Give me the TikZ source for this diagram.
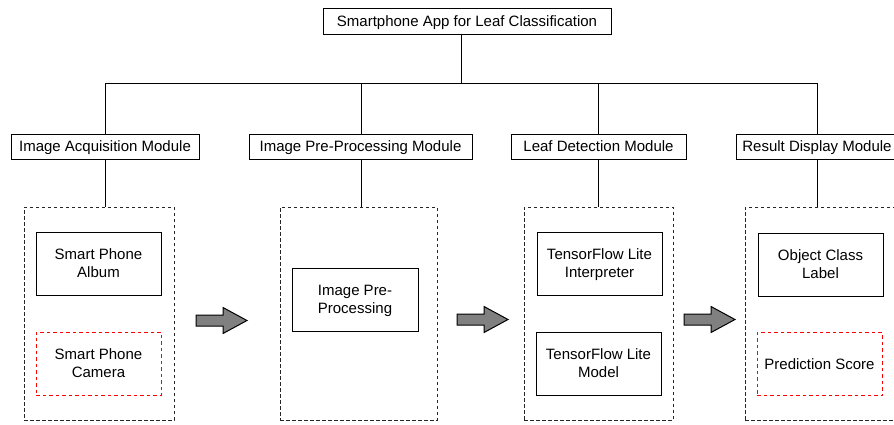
\documentclass[tikz,border=0pt]{standalone}
\usepackage{fontspec}
\setmainfont{Liberation Sans}
\begin{document}
\begin{tikzpicture}[x=1pt,y=-1pt,line width=1pt,
  box/.style={draw=black,fill=white,inner sep=0pt,align=center,text depth=0pt,
    font=\fontsize{15}{18}\selectfont},
  modbox/.style={box,minimum height=25},
  itembox/.style={box,minimum width=125,minimum height=63},
  redbox/.style={itembox,draw=red,dash pattern=on 3.5pt off 3pt},
  group/.style={draw=black!85,dash pattern=on 3.5pt off 2.5pt,inner sep=0pt,
    minimum height=213},
  link/.style={draw=black},
  blockarrow/.style={draw=black,fill=gray,line width=1pt}]
\useasboundingbox (0,0) rectangle (894,424);

% root
\node[box,minimum width=288,minimum height=26] (app) at (467,21)
  {Smartphone App for Leaf Classification};

% modules
\node[modbox,minimum width=188] (m1) at (105,146.5) {Image Acquisition Module};
\node[modbox,minimum width=223] (m2) at (360.5,146.5) {Image Pre-Processing Module};
\node[modbox,minimum width=175] (m3) at (598.5,146.5) {Leaf Detection Module};
\node[modbox,minimum width=162] (m4) at (817,146.5) {Result Display Module};

% dashed groups
\node[group,minimum width=150] (g1) at (99,313.5) {};
\node[group,minimum width=157] (g2) at (358.5,313.5) {};
\node[group,minimum width=149] (g3) at (598.5,313.5) {};
\node[group,minimum width=152] (g4) at (821,313.5) {};

% items
\node[itembox] (a1) at (98.5,263.5) {Smart Phone\\Album};
\node[redbox]  (a2) at (98.5,363.5) {Smart Phone\\Camera};
\node[itembox,minimum width=126] (b1) at (355,299.5) {Image Pre-\\Processing};
\node[itembox] (c1) at (599.5,263.5) {TensorFlow Lite\\Interpreter};
\node[itembox] (c2) at (598.5,363.5) {TensorFlow Lite\\Model};
\node[itembox] (d1) at (820.5,264.5) {Object Class\\Label};
\node[redbox]  (d2) at (819.5,364) {Prediction Score};

% tree connectors
\coordinate (bus) at (461,83);
\coordinate (t1) at (105,83);
\coordinate (t2) at (361,83);
\coordinate (t3) at (598,83);
\coordinate (t4) at (817,83);
\draw[link] (bus |- app.south) -- (bus);
\draw[link] (t1) -- (t4);
\draw[link] (t1) -- (t1 |- m1.north);
\draw[link] (t2) -- (t2 |- m2.north);
\draw[link] (t3) -- (t3 |- m3.north);
\draw[link] (t4) -- (t4 |- m4.north);
\draw[link] (t1 |- m1.south) -- (t1 |- g1.north);
\draw[link] (t2 |- m2.south) -- (t2 |- g2.north);
\draw[link] (t3 |- m3.south) -- (t3 |- g3.north);
\draw[link] (t4 |- m4.south) -- (t4 |- g4.north);

% block arrows between groups
\foreach \ax/\ay in {196/320.5,457/319.5,684/319.5}{
  \draw[blockarrow] (\ax,\ay) ++(0,-5.5) -- ++(27,0) -- ++(0,-7.5)
    -- ++(24,13) -- ++(-24,13) -- ++(0,-7.5) -- ++(-27,0) -- cycle;
}
\end{tikzpicture}
\end{document}
